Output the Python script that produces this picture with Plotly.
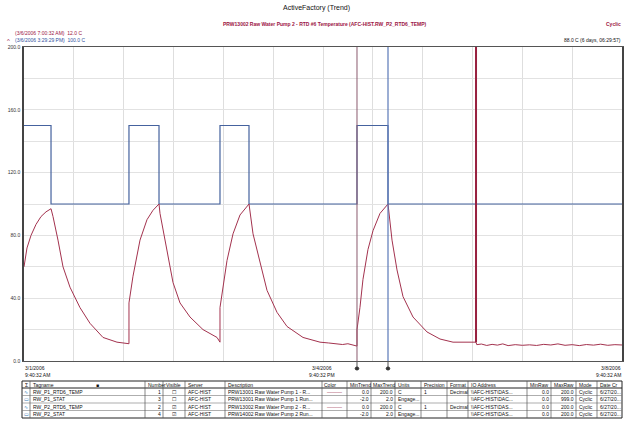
import pandas as pd
import plotly.graph_objects as go

# ---------------- data ----------------
start = pd.Timestamp("2006-03-01 09:40:32")
span_hours = 168

# pump status (step trace), hours from start
stat_hours = [0, 7.59, 29.49, 37.93, 55.06, 63.21, 93.55, 102.26, 168]
stat_vals = [150, 100, 150, 100, 150, 100, 150, 100, 100]

# RTD temperature (C), hours from start
temp_hours = [0, 0.84, 1.97, 3.37, 4.78, 6.18, 7.59, 8.15, 9.55, 10.96, 12.92,
              15.73, 18.54, 22.19, 26.12, 27.8, 29.49, 29.49, 30.62, 32.59,
              34.55, 36.24, 37.93, 38.21, 40.17, 41.86, 43.83, 46.64, 50.29,
              54.22, 55.06, 55.06, 57.03, 58.72, 60.68, 62.65, 63.21, 64.34,
              66.30, 68.27, 71.08, 73.89, 78.38, 83.16, 85.5, 87.93, 89.5,
              91.0, 92.5, 93.55, 93.55, 94.38, 95.23, 96.63, 98.05, 100.01,
              102.26, 103.39, 104.79, 106.48, 109.29, 113.22, 116.87, 120.53,
              126.99, 127.2, 128.5, 130, 131.5, 133, 134.5, 136, 138, 140, 142,
              144, 146, 148, 150, 152, 154, 156, 158, 160, 162, 164, 166, 168]
temp_vals = [60, 72, 80, 87, 92, 95, 97, 92, 77, 60, 47,
             34, 24, 15, 12, 11.5, 11, 37, 54, 77,
             90, 96, 100, 94, 71, 50, 37, 28, 20,
             15, 12, 34, 64, 81, 93, 99, 100, 81,
             62, 45, 31, 22, 15, 12, 11.5, 11, 10.5,
             11, 10, 9.5, 20, 34, 52, 71, 83, 94,
             100, 77, 58, 41, 28, 18.5, 14, 12,
             12, 10.4, 10.8, 9.9, 10.6, 10.1, 10.9, 9.8, 10.4, 10.0, 10.3,
             9.9, 10.6, 10.2, 10.9, 10.0, 10.4, 9.8, 10.5, 10.1, 10.7, 10.0, 10.4, 10.2]

spike_hour = 126.99
cursor1_hour = 93.55
cursor2_hour = 102.26

y_tickvals = [0, 20, 40, 60, 80, 100, 120, 140, 160, 180, 200]
y_ticktext = ["0.0", "", "40.0", "", "80.0", "", "120.0", "", "160.0", "", "200.0"]
grid_hours = [14 * i for i in range(13)]

# table
tbl_headers = ["Σ", "Tagname", "Number", "Visible", "Server", "Description", "Color",
               "MinTrend", "MaxTrend", "Units", "Precision", "Format", "IO Address",
               "MinRaw", "MaxRaw", "Mode", "Date Cr"]
tbl_icon = ["∿", "▭", "∿", "▭"]
tbl_tag = ["RW_P1_RTD6_TEMP", "RW_P1_STAT", "RW_P2_RTD6_TEMP", "RW_P2_STAT"]
tbl_number = ["1", "3", "2", "4"]
tbl_visible = ["☐", "☐", "☑", "☑"]
tbl_server = ["AFC-HIST", "AFC-HIST", "AFC-HIST", "AFC-HIST"]
tbl_desc = ["PRW13001 Raw Water Pump 1 - R...", "PRW13001 Raw Water Pump 1 Run...",
            "PRW13002 Raw Water Pump 2 - R...", "PRW14002 Raw Water Pump 2 Run..."]
tbl_color = ["———", "", "———", ""]
tbl_mintrend = ["0.0", "-2.0", "0.0", "-2.0"]
tbl_maxtrend = ["200.0", "2.0", "200.0", "2.0"]
tbl_units = ["C", "Engage...", "C", "Engage..."]
tbl_precision = ["1", "", "1", ""]
tbl_format = ["Decimal", "", "Decimal", ""]
tbl_io = ["\\\\AFC-HIST\\DAS...", "\\\\AFC-HIST\\DAC...", "\\\\AFC-HIST\\DAS...", "\\\\AFC-HIST\\DAS..."]
tbl_minraw = ["0.0", "0.0", "0.0", "0.0"]
tbl_maxraw = ["200.0", "999.0", "200.0", "200.0"]
tbl_mode = ["Cyclic", "Cyclic", "Cyclic", "Cyclic"]
tbl_date = ["6/27/20...", "6/27/20...", "6/27/20...", "6/27/20..."]

# ---------------- helpers ----------------
def t(h):
    return start + pd.to_timedelta(h, unit="h")

W, H = 628, 422
ML, MR, MT, MB = 22, 6, 47, 2
PW, PH = W - ML - MR, H - MT - MB

def px(x):
    return (x - ML) / PW

def py(y):
    return (H - MB - y) / PH

RED = "#a3324e"
BLUE = "#45629e"
FONT = "Liberation Sans"

fig = go.Figure()

fig.add_trace(go.Scatter(
    x=[t(h) for h in stat_hours], y=stat_vals, mode="lines",
    line=dict(color=BLUE, width=1.2, shape="hv"), name="RW_P2_STAT",
    hoverinfo="skip"))
fig.add_trace(go.Scatter(
    x=[t(h) for h in temp_hours], y=temp_vals, mode="lines",
    line=dict(color=RED, width=1), name="RW_P2_RTD6_TEMP",
    hoverinfo="skip"))

# shapes: cursors and spike
shapes = [
    dict(type="line", xref="x", yref="y", x0=t(cursor1_hour), x1=t(cursor1_hour),
         y0=0, y1=200, line=dict(color="#8a5a6e", width=1)),
    dict(type="line", xref="x", yref="y", x0=t(cursor2_hour), x1=t(cursor2_hour),
         y0=0, y1=200, line=dict(color="#5a78b8", width=1.2)),
    dict(type="line", xref="x", yref="y", x0=t(spike_hour), x1=t(spike_hour),
         y0=12, y1=200, line=dict(color="#98203f", width=2)),
    dict(type="line", xref="x", yref="paper", x0=t(cursor1_hour), x1=t(cursor1_hour),
         y0=py(368), y1=py(361), line=dict(color="#555555", width=1)),
    dict(type="line", xref="x", yref="paper", x0=t(cursor2_hour), x1=t(cursor2_hour),
         y0=py(368), y1=py(361), line=dict(color="#555555", width=1)),
    dict(type="circle", xref="x", yref="paper", x0=t(cursor1_hour - 0.5), x1=t(cursor1_hour + 0.5),
         y0=py(370), y1=py(367), line=dict(color="#333333", width=1), fillcolor="#333333"),
    dict(type="circle", xref="x", yref="paper", x0=t(cursor2_hour - 0.5), x1=t(cursor2_hour + 0.5),
         y0=py(370), y1=py(367), line=dict(color="#333333", width=1), fillcolor="#333333"),
]

def ann(x, y, text, size=6, color="#111111", xanchor="left", yanchor="middle"):
    return dict(x=px(x), y=py(y), xref="paper", yref="paper", text=text,
                showarrow=False, xanchor=xanchor, yanchor=yanchor, borderpad=0,
                font=dict(family=FONT, size=size, color=color))

annotations = [
    ann(316, 8, "ActiveFactory (Trend)", size=7, xanchor="center"),
    ann(325, 24, "<b>PRW13002 Raw Water Pump 2 - RTD #6 Temperature (AFC-HIST.RW_P2_RTD6_TEMP)</b>",
        size=5, color="#9b1444", xanchor="center"),
    ann(622, 24, "<b>Cyclic</b>", size=5, color="#9b1444", xanchor="right"),
    ann(14, 33, "(3/6/2006 7:00:32 AM)  12.0 C", size=5, color="#9b1444"),
    ann(14, 40, "(3/6/2006 3:29:29 PM)  100.0 C", size=5, color="#3050a0"),
    ann(6, 41, "^", size=6, color="#9b1444"),
    ann(622, 40, "88.0 C (6 days, 06:29:57)", size=5, xanchor="right"),
    ann(24, 368, "3/1/2006", size=5),
    ann(24, 375, "9:40:32 AM", size=5),
    ann(322, 368, "3/4/2006", size=5, xanchor="center"),
    ann(322, 375, "9:40:32 PM", size=5, xanchor="center"),
    ann(622, 368, "3/8/2006", size=5, xanchor="right"),
    ann(622, 375, "9:40:32 AM", size=5, xanchor="right"),
]

# ---------------- manual table ----------------
cols = [tbl_icon, tbl_tag, tbl_number, tbl_visible, tbl_server, tbl_desc, tbl_color,
        tbl_mintrend, tbl_maxtrend, tbl_units, tbl_precision, tbl_format, tbl_io,
        tbl_minraw, tbl_maxraw, tbl_mode, tbl_date]
widths = [8, 115, 18, 22, 40, 97, 25, 24, 24, 26, 26, 21, 59, 24, 25, 21, 25]
aligns = ["center", "left", "right", "center", "left", "left", "center", "right",
          "right", "left", "left", "left", "left", "right", "right", "left", "left"]
TX0 = 22
TY0 = 381
HDR_H = 7
ROW_H = 7.5
n_rows = len(tbl_tag)
TY1 = TY0 + HDR_H + ROW_H * n_rows

def line_px(x0, y0, x1, y1, color="#333333", width=0.8):
    return dict(type="line", xref="paper", yref="paper", x0=px(x0), x1=px(x1),
                y0=py(y0), y1=py(y1), line=dict(color=color, width=width))

TX1 = TX0 + sum(widths)
shapes.append(dict(type="rect", xref="paper", yref="paper", x0=px(TX0), x1=px(TX1),
                   y0=py(TY1), y1=py(TY0), fillcolor="white",
                   line=dict(color="#222222", width=1), layer="below"))
shapes.append(line_px(TX0, TY0 + HDR_H, TX1, TY0 + HDR_H, "#222222", 1))
for r in range(1, n_rows):
    yy = TY0 + HDR_H + ROW_H * r
    shapes.append(line_px(TX0, yy, TX1, yy, "#777777", 0.6))
xc = TX0
col_edges = []
for w in widths:
    col_edges.append((xc, xc + w))
    xc += w
for (a, b) in col_edges[:-1]:
    shapes.append(line_px(b, TY0, b, TY1, "#555555", 0.7))

def cell_x(ci, align):
    a, b = col_edges[ci]
    if align == "left":
        return a + 1.5, "left"
    if align == "right":
        return b - 1.5, "right"
    return (a + b) / 2, "center"

for ci, hdr in enumerate(tbl_headers):
    x, xa = cell_x(ci, "left" if ci not in (0,) else "center")
    annotations.append(ann(x, TY0 + HDR_H / 2, hdr, size=5, xanchor=xa))
annotations.append(ann(97, TY0 + HDR_H / 2, "■", size=5, xanchor="center"))

for ci, col in enumerate(cols):
    for ri, val in enumerate(col):
        if val == "":
            continue
        color = "#111111"
        if ci == 0:
            color = "#3a7ab8"
        elif ci == 6:
            color = [RED, BLUE, RED, BLUE][ri]
        x, xa = cell_x(ci, aligns[ci])
        yy = TY0 + HDR_H + ROW_H * ri + ROW_H / 2
        annotations.append(ann(x, yy, val, size=5, color=color, xanchor=xa))

fig.update_layout(
    width=W, height=H,
    margin=dict(l=ML, r=MR, t=MT, b=MB, pad=0, autoexpand=False),
    paper_bgcolor="white", plot_bgcolor="white",
    showlegend=False,
    shapes=shapes, annotations=annotations,
    xaxis=dict(domain=[px(24), 1], range=[t(0), t(span_hours)], automargin=False,
               tickvals=[t(h) for h in grid_hours], showticklabels=False,
               showgrid=True, gridcolor="#dedede", gridwidth=1,
               showline=True, linecolor="#555555", linewidth=1, mirror=True,
               zeroline=False, ticks=""),
    yaxis=dict(domain=[py(361), 1], range=[0, 200], automargin=False,
               tickvals=y_tickvals, ticktext=y_ticktext,
               tickfont=dict(family=FONT, size=5, color="#333333"),
               showgrid=True, gridcolor="#e2e2e2", gridwidth=1,
               showline=True, linecolor="#444444", linewidth=1.5, mirror=True,
               zeroline=False, ticks="", ticklabelstandoff=1),
)

fig.write_html("out.html", config={"displayModeBar": False},
               post_script="document.body.style.margin='0';document.body.style.overflow='hidden';")
